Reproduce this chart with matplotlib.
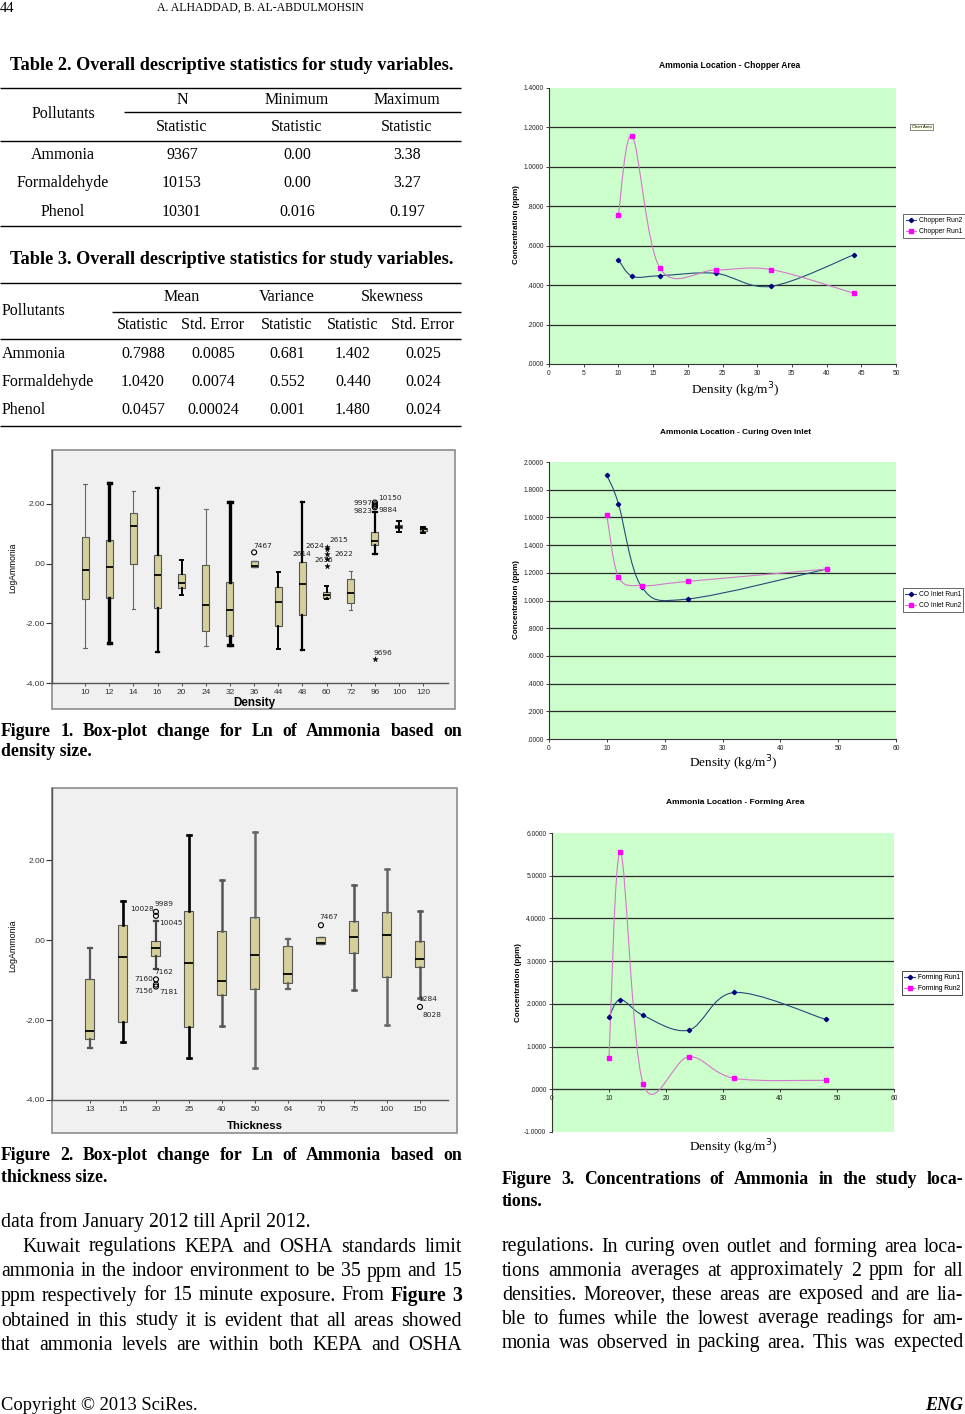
import matplotlib
matplotlib.use('Agg')
import matplotlib.pyplot as plt
import numpy as np
from matplotlib.path import Path
from matplotlib.patches import PathPatch, Rectangle
from matplotlib.lines import Line2D
from matplotlib.ticker import FuncFormatter

SERIF = 'Liberation Serif'
SANS = 'Liberation Sans'

# ---------------- data ----------------
# Table 2
t2_head = ['N', 'Minimum', 'Maximum']
t2_names = ['Ammonia', 'Formaldehyde', 'Phenol']
t2_n = ['9367', '10153', '10301']
t2_min = ['0.00', '0.00', '0.016']
t2_max = ['3.38', '3.27', '0.197']

# Table 3
t3_head = ['Mean', 'Variance', 'Skewness']
t3_sub = ['Statistic', 'Std. Error', 'Statistic', 'Statistic', 'Std. Error']
t3_mean = ['0.7988', '1.0420', '0.0457']
t3_mean_se = ['0.0085', '0.0074', '0.00024']
t3_var = ['0.681', '0.552', '0.001']
t3_skew = ['1.402', '0.440', '1.480']
t3_skew_se = ['0.025', '0.024', '0.024']

# Figure 1: LogAmmonia by density
dens = ['10', '12', '14', '16', '20', '24', '32', '36', '44', '48', '60', '72', '96', '100', '120']
dens_hi = [2.66, 2.70, 2.42, 2.55, 0.11, 1.83, 2.06, 0.08, -0.29, 2.08, -0.76, -0.26, 1.72, 1.42, 1.23]
dens_q3 = [0.88, 0.80, 1.69, 0.28, -0.36, -0.06, -0.62, 0.08, -0.78, 0.04, -0.96, -0.51, 1.05, 1.30, 1.19]
dens_med = [-0.20, -0.12, 1.25, -0.39, -0.65, -1.37, -1.56, -0.07, -1.29, -0.68, -1.06, -0.98, 0.75, 1.23, 1.16]
dens_q1 = [-1.20, -1.15, 0.00, -1.48, -0.81, -2.26, -2.41, -0.11, -2.10, -1.71, -1.15, -1.32, 0.61, 1.18, 1.10]
dens_lo = [-2.82, -2.65, -1.52, -2.95, -1.04, -2.76, -2.71, -0.11, -2.85, -2.88, -1.20, -1.56, 0.33, 1.05, 1.03]
dens_out_cat = ['36', '60', '60', '60', '60', '60', '96', '96', '96', '96', '96']
dens_out_val = [0.38, 0.56, 0.48, 0.31, 0.16, -0.08, 2.05, 1.99, 1.94, 1.89, -3.21]
dens_out_sym = ['o', '*', '*', '*', '*', '*', 'o', 'o', 'o', 'o', '*']
dens_lab_cat = ['36', '60', '60', '60', '60', '60', '96', '96', '96', '96', '96']
dens_lab_val = [0.58, 0.60, 0.78, 0.33, 0.32, 0.13, 2.05, 2.20, 1.78, 1.80, -3.01]
dens_lab_txt = ['7467', '2624', '2615', '2614', '2622', '2636', '9997', '10150', '9823', '9884', '9696']

# Figure 2: LogAmmonia by thickness
thick = ['13', '15', '20', '25', '40', '50', '64', '70', '75', '100', '150']
thick_hi = [-0.19, 0.98, 0.475, 2.64, 1.51, 2.71, 0.025, 0.08, 1.38, 1.77, 0.73]
thick_q3 = [-0.96, 0.375, -0.01, 0.73, 0.23, 0.57, -0.14, 0.08, 0.48, 0.70, -0.025]
thick_med = [-2.28, -0.42, -0.19, -0.56, -1.01, -0.36, -0.84, -0.07, 0.09, 0.12, -0.46]
thick_q1 = [-2.48, -2.06, -0.39, -2.18, -1.36, -1.21, -1.06, -0.09, -0.33, -0.93, -0.68]
thick_lo = [-2.71, -2.54, -0.73, -2.96, -2.15, -3.21, -1.23, -0.09, -1.25, -2.13, -1.45]
thick_out_cat = ['20', '20', '20', '20', '20', '70', '150']
thick_out_val = [0.71, 0.61, -0.98, -1.11, -1.16, 0.375, -1.67]
thick_lab_cat = ['20', '20', '20', '20', '20', '20', '20', '70', '150', '150']
thick_lab_val = [0.79, 0.90, 0.43, -0.79, -0.98, -1.28, -1.29, 0.58, -1.475, -1.86]
thick_lab_txt = ['10028', '9989', '10045', '7162', '7160', '7156', '7181', '7467', '1284', '8028']

# Figure 3: ammonia concentration (ppm) vs density (kg/m3)
chop_x = [10, 12, 16, 24, 32, 44]
chop_run2 = [0.529, 0.445, 0.448, 0.460, 0.394, 0.555]
chop_run1 = [0.758, 1.155, 0.485, 0.477, 0.479, 0.358]
inlet_x1 = [10, 12, 16, 24, 48]
inlet_run1 = [1.904, 1.700, 1.100, 1.011, 1.227]
inlet_x2 = [10, 12, 16, 24, 48]
inlet_run2 = [1.616, 1.172, 1.107, 1.138, 1.227]
form_x = [10, 12, 16, 24, 32, 48]
form_run1 = [1.70, 2.10, 1.73, 1.386, 2.266, 1.636]
form_run2 = [0.724, 5.55, 0.125, 0.763, 0.257, 0.21]

# ---------------- page setup ----------------
W, H = 965, 1414
fig = plt.figure(figsize=(W / 100, H / 100), dpi=100)
fig.patch.set_facecolor('white')
over = fig.add_axes([0, 0, 1, 1])
over.set_xlim(0, W)
over.set_ylim(H, 0)
over.axis('off')
renderer = fig.canvas.get_renderer()


def px_ax(l, t, r, b):
    return fig.add_axes([l / W, 1 - b / H, (r - l) / W, (b - t) / H])


def txt(x, y, s, size, width=None, family=SERIF, **kw):
    kw.setdefault('va', 'center')
    t = over.text(x, y, s, fontsize=size, family=family, **kw)
    if width:
        bb = t.get_window_extent(renderer)
        w = bb.height if kw.get('rotation') == 90 else bb.width
        t.set_fontsize(size * width / w)
    return t


def justify(line, x0, x1, y, size, weight='normal', bold=()):
    words = line.split()
    ts = []
    for i, w in enumerate(words):
        wt = 'bold' if (weight == 'bold' or i in bold) else 'normal'
        ts.append(over.text(x0, y, w, fontsize=size, family=SERIF, fontweight=wt,
                            va='center', ha='left'))
    widths = [t.get_window_extent(renderer).width for t in ts]
    gap = (x1 - x0 - sum(widths)) / (len(ts) - 1)
    x = x0
    for t, w in zip(ts, widths):
        t.set_x(x)
        x += w + gap


def hline(x0, x1, y, lw=1.0):
    over.plot([x0, x1], [y, y], color='black', lw=lw, solid_capstyle='butt')


# header
txt(0, 8, '44', 10.5, ha='left')
txt(260, 8, 'A. ALHADDAD, B. AL-ABDULMOHSIN', 10, width=205, ha='center')

# ---------------- tables ----------------
TS = 11.5
txt(232, 65, 'Table 2. Overall descriptive statistics for study variables.', 12,
    width=437, ha='center', fontweight='bold')
hline(0, 461, 88)
hline(124, 461, 112)
hline(0, 461, 141)
hline(0, 461, 226)
t2_cx = [182, 297, 407]
txt(63, 114, 'Pollutants', TS, ha='center')
for cx, h in zip(t2_cx, t2_head):
    txt(cx, 100, h, TS, ha='center')
    txt(cx, 127, 'Statistic', TS, ha='center')
for i, ry in enumerate([155, 183, 212]):
    txt(63, ry, t2_names[i], TS, ha='center')
    for cx, col in zip(t2_cx, [t2_n, t2_min, t2_max]):
        txt(cx, ry, col[i], TS, ha='center')

txt(232, 260, 'Table 3. Overall descriptive statistics for study variables.', 12,
    width=437, ha='center', fontweight='bold')
hline(0, 461, 283)
hline(112, 461, 312)
hline(0, 461, 339)
hline(0, 461, 426)
txt(2, 311, 'Pollutants', TS, ha='left')
for cx, h in zip([182, 287, 392], t3_head):
    txt(cx, 297, h, TS, ha='center')
t3_cx = [143, 213, 287, 353, 423]
for cx, h in zip(t3_cx, t3_sub):
    txt(cx, 325, h, TS, ha='center')
for i, ry in enumerate([354, 382, 410]):
    txt(2, ry, t2_names[i], TS, ha='left')
    for cx, col in zip(t3_cx, [t3_mean, t3_mean_se, t3_var, t3_skew, t3_skew_se]):
        txt(cx, ry, col[i], TS, ha='center')

# ---------------- SPSS box plots ----------------
BOXC = '#d5cf99'


def spss_box(ax, cats, lo, q1, med, q3, hi, wlw, wcol, width, capw):
    stats = [dict(whislo=a, q1=b, med=c, q3=d, whishi=e, fliers=[])
             for a, b, c, d, e in zip(lo, q1, med, q3, hi)]
    pos = np.arange(len(cats))
    r = ax.bxp(stats, positions=pos, widths=width, patch_artist=True, showfliers=False,
               manage_ticks=False, capwidths=capw,
               boxprops=dict(facecolor=BOXC, edgecolor='#555555', lw=0.8),
               medianprops=dict(color='black', lw=1.3))
    for i in range(len(cats)):
        for art in r['whiskers'][2 * i:2 * i + 2] + r['caps'][2 * i:2 * i + 2]:
            art.set_linewidth(wlw[i])
            art.set_color(wcol[i])
    ax.set_xticks(pos)
    ax.set_xticklabels(cats)
    ax.set_facecolor('none')
    for s in ['top', 'right']:
        ax.spines[s].set_visible(False)
    for s in ['left', 'bottom']:
        ax.spines[s].set_color('#555555')
        ax.spines[s].set_linewidth(1.0)
    ax.set_ylim(-4, 3.81)
    ax.set_yticks([-4, -2, 0, 2])
    ax.set_yticklabels(['-4.00', '-2.00', '.00', '2.00'])
    ax.tick_params(axis='y', length=4, width=0.8, pad=1, labelsize=6, colors='#333333')
    ax.tick_params(axis='x', length=2.5, width=0.6, pad=1.5, labelsize=6, colors='#333333')
    for t in ax.get_xticklabels() + ax.get_yticklabels():
        t.set_family(SANS)


def add_outliers(ax, cats, ocat, oval, osym):
    for c, v, m in zip(ocat, oval, osym):
        x = cats.index(c)
        if m == 'o':
            ax.scatter([x], [v], s=13, marker='o', facecolors='none', edgecolors='black',
                       linewidths=0.8, zorder=5)
        else:
            ax.scatter([x], [v], s=16, marker='*', color='black', linewidths=0.3, zorder=5)


def add_labels(ax, cats, lcat, lval, ltxt, dx, ha):
    for c, v, s, d, h in zip(lcat, lval, ltxt, dx, ha):
        x = cats.index(c)
        ax.annotate(s, (x, v), xytext=(d * 0.72, 0), textcoords='offset points',
                    ha=h, va='center', fontsize=5.3, family='DejaVu Sans', color='#222222')


# Figure 1
over.add_patch(Rectangle((52, 450), 403, 259, facecolor='#f0f0f0', edgecolor='#8c8c8c', lw=1.2))
ax1 = px_ax(52, 450, 448, 683)
wl1 = [0.8, 2.4, 0.8, 1.6, 1.4, 0.8, 2.4, 1.0, 1.4, 1.6, 1.4, 0.8, 1.6, 1.4, 1.4]
wc1 = ['black' if w > 1.0 else '#666666' for w in wl1]
spss_box(ax1, dens, dens_lo, dens_q1, dens_med, dens_q3, dens_hi, wl1, wc1, 0.29, 0.14)
ax1.set_xlim(-1.37, 15.03)
add_outliers(ax1, dens, dens_out_cat, dens_out_val, dens_out_sym)
add_labels(ax1, dens, dens_lab_cat, dens_lab_val, dens_lab_txt,
           [-1, -2, 3, -15, 8, -3, -2, 3, -2, 4, -1],
           ['left', 'right', 'left', 'right', 'left', 'center', 'right', 'left', 'right', 'left', 'left'])
txt(13, 568, 'LogAmmonia', 7, width=50, family=SANS, rotation=90, ha='center')
txt(254, 703, 'Density', 7, width=42, family=SANS, ha='center', fontweight='bold')
justify('Figure 1. Box-plot change for Ln of Ammonia based on', 1, 462, 731, 12.8, weight='bold')
txt(1, 752, 'density size.', 12.8, ha='left', fontweight='bold')

# Figure 2
over.add_patch(Rectangle((52, 788), 405, 345, facecolor='#f0f0f0', edgecolor='#8c8c8c', lw=1.2))
ax2 = px_ax(52, 788, 448, 1100)
wl2 = [1.6, 1.9, 1.6, 1.9, 1.8, 1.8, 1.6, 1.0, 1.8, 1.8, 1.8]
wc2 = ['#555555', 'black', '#444444', 'black', '#555555', '#666666', '#666666',
       '#555555', '#555555', '#666666', '#555555']
spss_box(ax2, thick, thick_lo, thick_q1, thick_med, thick_q3, thick_hi, wl2, wc2, 0.27, 0.14)
ax2.set_xlim(-1.15, 10.85)
add_outliers(ax2, thick, thick_out_cat, thick_out_val, ['o'] * len(thick_out_cat))
add_labels(ax2, thick, thick_lab_cat, thick_lab_val, thick_lab_txt,
           [-2, -1, 3, -2, -3, -3, 3, -2, -2, 3],
           ['right', 'left', 'left', 'left', 'right', 'right', 'left', 'left', 'left', 'left'])
txt(13, 946, 'LogAmmonia', 7, width=52, family=SANS, rotation=90, ha='center')
txt(255, 1126, 'Thickness', 7, width=56, family=SANS, ha='center', fontweight='bold')
justify('Figure 2. Box-plot change for Ln of Ammonia based on', 1, 462, 1156, 12.8, weight='bold')
txt(1, 1177, 'thickness size.', 12.8, ha='left', fontweight='bold')

# ---------------- Excel line charts ----------------
NAVY = '#000080'
BLUE_LINE = '#26497a'
MAG = '#ff00ff'
MAG_LINE = '#d477c8'


def smooth_path(x, y):
    p = np.column_stack([x, y]).astype(float)
    n = len(p)
    verts = [p[0]]
    codes = [Path.MOVETO]
    for i in range(n - 1):
        p0 = p[i - 1] if i > 0 else p[i]
        p3 = p[i + 2] if i + 2 < n else p[i + 1]
        verts += [p[i] + (p[i + 1] - p0) / 6, p[i + 1] - (p3 - p[i]) / 6, p[i + 1]]
        codes += [Path.CURVE4] * 3
    return Path(verts, codes)


def fmt4(v, _=None):
    s = f'{v:.4f}'
    if s.startswith('0.'):
        s = s[1:]
    if s == '-0.0000':
        s = '.0000'
    return s


def excel_chart(rect, xmax, xstep, ymin, ymax, ystep, series, title, tpos, ylpos, xlpos, lpos,
                zero_axis=False):
    ax = px_ax(*rect)
    ax.set_facecolor('#ccffcc')
    ax.set_xlim(0, xmax)
    ax.set_ylim(ymin, ymax)
    yt = np.arange(ymin, ymax + ystep / 2, ystep)
    ax.set_yticks(yt)
    ax.yaxis.set_major_formatter(FuncFormatter(fmt4))
    ax.set_xticks(np.arange(0, xmax + xstep / 2, xstep))
    for v in yt[1:-1]:
        ax.axhline(v, color='#2b2b2b', lw=0.9, zorder=1)
    for s in ['top', 'right']:
        ax.spines[s].set_visible(False)
    for s in ['left', 'bottom']:
        ax.spines[s].set_color('#333333')
        ax.spines[s].set_linewidth(0.8)
    if zero_axis:
        ax.spines['bottom'].set_position(('data', 0))
    ax.tick_params(length=2.5, width=0.6, pad=1.5, labelsize=4.8, colors='#222222')
    for t in ax.get_xticklabels() + ax.get_yticklabels():
        t.set_family(SANS)
    handles = []
    for x, y, lab, lc, mk, mc, ms in series:
        ax.add_patch(PathPatch(smooth_path(x, y), fill=False, edgecolor=lc, lw=0.8, zorder=3))
        ax.plot(x, y, ls='none', marker=mk, color=mc, ms=ms, zorder=4)
        handles.append(Line2D([], [], color=lc, lw=0.8, marker=mk, markerfacecolor=mc,
                              markeredgecolor=mc, ms=ms, label=lab))
    txt(tpos[0], tpos[1], title, 7, width=tpos[2], family=SANS, ha='center', fontweight='bold')
    txt(ylpos[0], ylpos[1], 'Concentration (ppm)', 5, width=80, family=SANS, rotation=90,
        ha='center', fontweight='bold')
    txt(xlpos[0], xlpos[1], 'Density (kg/m$^3$)', 8, width=89, ha='center')
    leg = over.legend(handles=handles, loc='center', bbox_to_anchor=lpos,
                      bbox_transform=over.transData, frameon=True,
                      fancybox=False, handlelength=1.6, handletextpad=0.4,
                      borderpad=0.4, labelspacing=0.6, prop={'family': SANS, 'size': 4.8})
    leg.get_frame().set_edgecolor('#222222')
    leg.get_frame().set_linewidth(0.6)
    over.add_artist(leg)
    return ax


excel_chart((549, 88, 896, 364), 50, 5, 0, 1.4, 0.2,
            [(chop_x, chop_run2, 'Chopper Run2', BLUE_LINE, 'D', NAVY, 2.2),
             (chop_x, chop_run1, 'Chopper Run1', MAG_LINE, 's', MAG, 2.8)],
            'Ammonia Location - Chopper Area', (730, 65, 140), (517, 225), (735, 390),
            (934, 226))
over.text(921.5, 127, 'Chart Area', fontsize=3, family=SANS, ha='center', va='center',
          bbox=dict(boxstyle='square,pad=0.3', facecolor='#ffffe8', edgecolor='#555555', lw=0.5))

excel_chart((549, 462, 896, 739), 60, 10, 0, 2.0, 0.2,
            [(inlet_x1, inlet_run1, 'CO Inlet Run1', BLUE_LINE, 'D', NAVY, 2.2),
             (inlet_x2, inlet_run2, 'CO Inlet Run2', MAG_LINE, 's', MAG, 2.8)],
            'Ammonia Location - Curing Oven Inlet', (735, 433, 150), (517, 600), (733, 763),
            (933, 600))

excel_chart((552, 833, 894, 1132), 60, 10, -1.0, 6.0, 1.0,
            [(form_x, form_run1, 'Forming Run1', BLUE_LINE, 'D', NAVY, 2.2),
             (form_x, form_run2, 'Forming Run2', MAG_LINE, 's', MAG, 2.8)],
            'Ammonia Location - Forming Area', (735, 803, 136), (518, 983), (733, 1147),
            (932, 983), zero_axis=True)

justify('Figure 3. Concentrations of Ammonia in the study loca-', 502, 963, 1180, 12.8,
        weight='bold')
txt(502, 1202, 'tions.', 12.8, ha='left', fontweight='bold')

# ---------------- body text ----------------
BS = 14.2
txt(1, 1222, 'data from January 2012 till April 2012.', BS, ha='left')
left_lines = ['Kuwait regulations KEPA and OSHA standards limit',
              'ammonia in the indoor environment to be 35 ppm and 15',
              'ppm respectively for 15 minute exposure. From Figure 3',
              'obtained in this study it is evident that all areas showed',
              'that ammonia levels are within both KEPA and OSHA']
left_y = [1247, 1272, 1296, 1321, 1345]
for i, (ln, y) in enumerate(zip(left_lines, left_y)):
    x0 = 22 if i == 0 else 1
    bold = (7, 8) if i == 2 else ()
    justify(ln, x0, 462, y, BS, bold=bold)

right_lines = ['regulations. In curing oven outlet and forming area loca-',
               'tions ammonia averages at approximately 2 ppm for all',
               'densities. Moreover, these areas are exposed and are lia-',
               'ble to fumes while the lowest average readings for am-',
               'monia was observed in packing area. This was expected']
right_y = [1247, 1271, 1295, 1319, 1343]
for ln, y in zip(right_lines, right_y):
    justify(ln, 502, 963, y, BS)

txt(1, 1405, 'Copyright \u00a9 2013 SciRes.', 13, width=195, ha='left')
txt(963, 1406, 'ENG', 13, ha='right', fontweight='bold', fontstyle='italic')

fig.savefig('out.png', dpi=100)
